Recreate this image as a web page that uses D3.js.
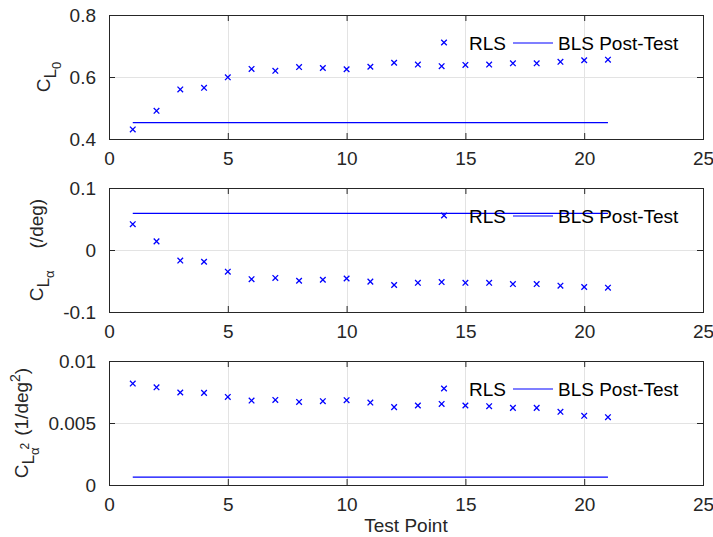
<!DOCTYPE html>
<html><head><meta charset="utf-8">
<script src="https://cdn.jsdelivr.net/npm/d3@7"></script>
<style>
html,body{margin:0;padding:0;background:#fff;}
svg{display:block;font-family:"Liberation Sans",Arial,Helvetica,sans-serif;}
</style></head>
<body>
<script>
// ---------- data ----------
const testPoints = [1,2,3,4,5,6,7,8,9,10,11,12,13,14,15,16,17,18,19,20,21];
const rlsCL0 = [0.431,0.491,0.560,0.565,0.599,0.626,0.620,0.632,0.629,0.625,0.633,0.646,0.640,0.635,0.639,0.640,0.644,0.644,0.649,0.654,0.656];
const blsCL0 = 0.453;
const rlsCLa = [0.0416,0.0139,-0.017,-0.019,-0.035,-0.047,-0.045,-0.0496,-0.048,-0.046,-0.051,-0.0565,-0.053,-0.0517,-0.053,-0.053,-0.055,-0.055,-0.0576,-0.0597,-0.0608];
const blsCLa = 0.0592;
const rlsCLa2 = [0.00818,0.00788,0.00746,0.00743,0.0071,0.00681,0.00686,0.0067,0.00676,0.00684,0.00665,0.00628,0.00641,0.00654,0.00641,0.00636,0.00622,0.00622,0.0059,0.00558,0.00547];
const blsCLa2 = 0.00064;
const xTicks = [0,5,10,15,20,25];
const yTicks1 = [0.4,0.6,0.8];
const yTicks2 = [-0.1,0,0.1];
const yTicks3 = [0,0.005,0.01];
const yTickLabels1 = ["0.4","0.6","0.8"];
const yTickLabels2 = ["-0.1","0","0.1"];
const yTickLabels3 = ["0","0.005","0.01"];
const legendLabels = ["RLS","BLS Post-Test"];
const xLabel = "Test Point";

// ---------- layout ----------
const W = 713, H = 537;
const left = 109, right = 703, ph = 124;
const tops = [15, 188, 361];
const ink = "#262626", blue = "#0000ff", gridC = "#e3e3e3";
const fs = 19;

const svg = d3.select("body").append("svg").attr("width", W).attr("height", H);
const x = d3.scaleLinear().domain([0,25]).range([left, right]);

const panels = [
  {rls: rlsCL0, bls: blsCL0, dom: [0.4,0.8], ticks: yTicks1, tl: yTickLabels1, labelX: 50, label: "cl0"},
  {rls: rlsCLa, bls: blsCLa, dom: [-0.1,0.1], ticks: yTicks2, tl: yTickLabels2, labelX: 43, label: "cla"},
  {rls: rlsCLa2, bls: blsCLa2, dom: [0,0.01], ticks: yTicks3, tl: yTickLabels3, labelX: 28, label: "cla2"}
];

panels.forEach((p, i) => {
  const top = tops[i], bot = top + ph;
  const y = d3.scaleLinear().domain(p.dom).range([bot, top]);
  const g = svg.append("g");

  // grid
  g.append("g").selectAll("line").data(xTicks.slice(1,-1)).join("line")
    .attr("x1", d => Math.round(x(d)) + 0.5).attr("x2", d => Math.round(x(d)) + 0.5)
    .attr("y1", top).attr("y2", bot).attr("stroke", gridC).attr("stroke-width", 1);
  g.append("g").selectAll("line").data(p.ticks.slice(1,-1)).join("line")
    .attr("y1", d => Math.round(y(d)) + 0.5).attr("y2", d => Math.round(y(d)) + 0.5)
    .attr("x1", left).attr("x2", right).attr("stroke", gridC).attr("stroke-width", 1);

  // axes with D3 axis generators (inward ticks)
  const xa = g.append("g").attr("transform", `translate(0,${bot})`)
    .call(d3.axisBottom(x).tickValues(xTicks).tickSizeInner(-6).tickSizeOuter(0).tickPadding(13));
  const xt = g.append("g").attr("transform", `translate(0,${top})`)
    .call(d3.axisTop(x).tickValues(xTicks).tickSizeInner(-6).tickSizeOuter(0).tickFormat(""));
  const ya = g.append("g").attr("transform", `translate(${left},0)`)
    .call(d3.axisLeft(y).tickValues(p.ticks).tickSizeInner(-6).tickSizeOuter(0).tickPadding(13)
      .tickFormat((d, k) => p.tl[k]));
  const yr = g.append("g").attr("transform", `translate(${right},0)`)
    .call(d3.axisRight(y).tickValues(p.ticks).tickSizeInner(-6).tickSizeOuter(0).tickFormat(""));
  [xa, xt, ya, yr].forEach(a => {
    a.select(".domain").remove();
    a.selectAll("line").attr("stroke", ink);
    a.selectAll("text").attr("fill", ink).attr("font-size", fs).attr("font-family", null);
  });
  xa.selectAll("text").attr("dy", "0.71em");
  // box
  g.append("rect").attr("x", left + 0.5).attr("y", top + 0.5)
    .attr("width", right - left).attr("height", ph)
    .attr("fill", "none").attr("stroke", ink).attr("stroke-width", 1);

  // BLS line
  const line = d3.line().x(d => x(d)).y(() => y(p.bls));
  g.append("path").datum([testPoints[0], testPoints[testPoints.length - 1]])
    .attr("d", line).attr("fill", "none").attr("stroke", blue).attr("stroke-width", 1.2);

  // RLS markers
  const s = 2.8;
  g.append("g").selectAll("path").data(testPoints).join("path")
    .attr("d", (d, k) => {
      const cx = x(d), cy = y(p.rls[k]);
      return `M${cx-s},${cy-s}L${cx+s},${cy+s}M${cx-s},${cy+s}L${cx+s},${cy-s}`;
    })
    .attr("stroke", blue).attr("stroke-width", 1.3).attr("fill", "none");

  // legend (transparent, no box)
  const ly = top + 28;
  const lg = g.append("g");
  const mx = 444, my = ly - 0.5;
  lg.append("path").attr("d", `M${mx-s},${my-s}L${mx+s},${my+s}M${mx-s},${my+s}L${mx+s},${my-s}`)
    .attr("stroke", blue).attr("stroke-width", 1.3);
  lg.append("text").attr("x", 469).attr("y", ly).attr("dy", "0.35em")
    .attr("font-size", fs).attr("fill", "#000").text(legendLabels[0]);
  lg.append("line").attr("x1", 513).attr("x2", 553).attr("y1", ly).attr("y2", ly)
    .attr("stroke", blue).attr("stroke-width", 1.2);
  lg.append("text").attr("x", 558).attr("y", ly).attr("dy", "0.35em")
    .attr("font-size", fs).attr("fill", "#000").text(legendLabels[1]);

  // y label
  const cy = (top + bot) / 2;
  const t = svg.append("text").attr("transform", `translate(${p.labelX},${cy}) rotate(-90)`)
    .attr("text-anchor", "middle").attr("fill", ink).attr("font-size", fs);
  t.append("tspan").text("C");
  if (p.label === "cl0") {
    t.append("tspan").attr("dy", 6).attr("font-size", 17).text("L");
    t.append("tspan").attr("dy", 5).attr("font-size", 13).text("0");
  } else if (p.label === "cla") {
    t.append("tspan").attr("dy", 6).attr("font-size", 17).text("L");
    t.append("tspan").attr("dy", 5).attr("font-size", 13).text("α");
    t.append("tspan").attr("dy", -11).attr("dx", 22).text("(/deg)");
  } else {
    t.append("tspan").attr("dy", 6).attr("font-size", 17).text("L");
    t.append("tspan").attr("dy", 5).attr("font-size", 13).text("α");
    t.append("tspan").attr("dy", -10).attr("dx", -2).attr("font-size", 12).text("2");
    t.append("tspan").attr("dy", -1).attr("dx", 7).text("(1/deg");
    t.append("tspan").attr("dy", -8).attr("font-size", 14).text("2");
    t.append("tspan").attr("dy", 8).text(")");
  }
});

// x label
svg.append("text").attr("x", (left + right) / 2).attr("y", 532)
  .attr("text-anchor", "middle").attr("fill", ink).attr("font-size", fs).text(xLabel);
</script>
</body></html>
